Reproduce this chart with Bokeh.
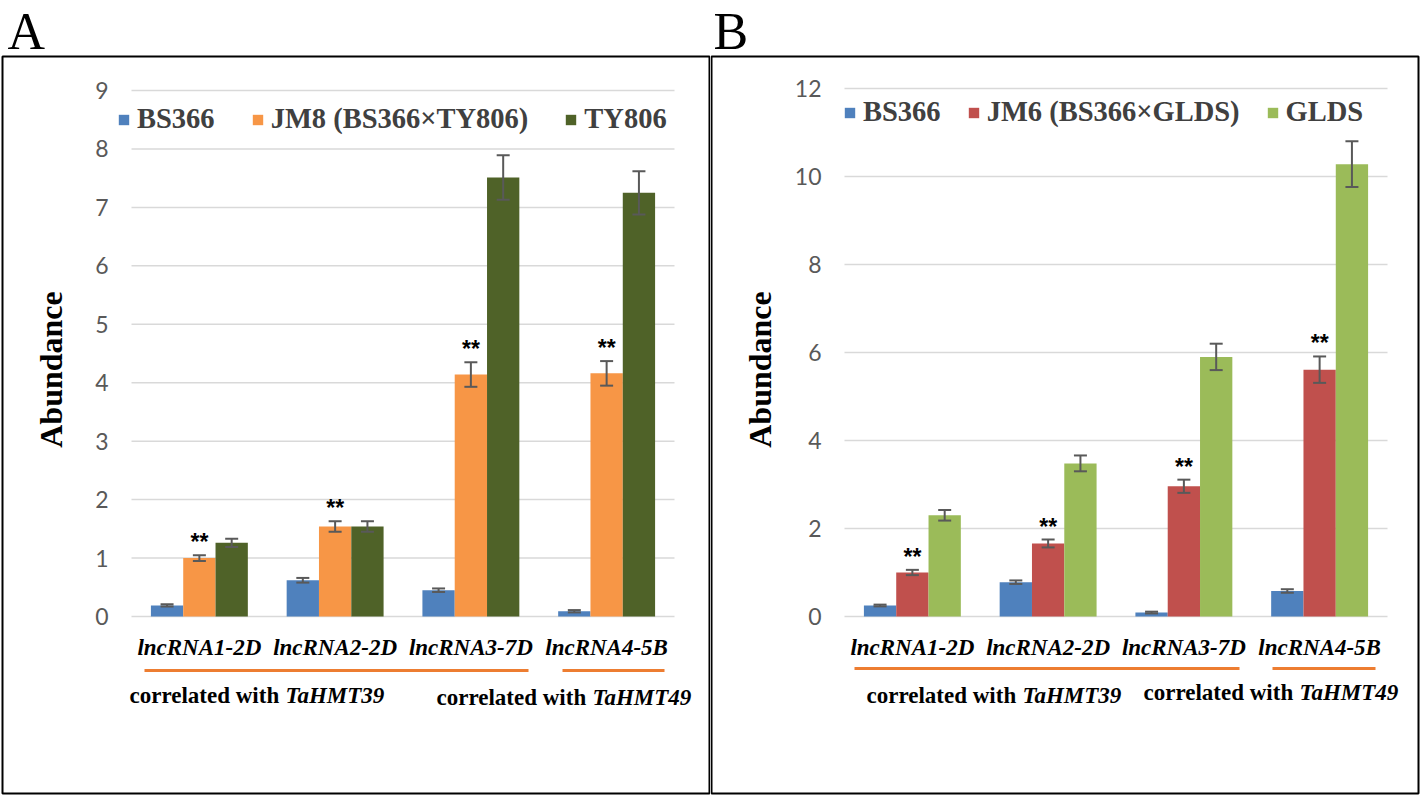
import numpy as np
from bokeh.plotting import figure
from bokeh.models import (ColumnDataSource, Range1d, FixedTicker, Whisker, TeeHead,
                          Label, Legend, LegendItem, BoxAnnotation)
from bokeh.layouts import row
from bokeh.core.properties import value
from bokeh.embed import file_html
from bokeh.resources import INLINE

# ---------------- data ----------------
categories = ["lncRNA1-2D", "lncRNA2-2D", "lncRNA3-7D", "lncRNA4-5B"]

a_series = ["BS366", "JM8 (BS366×TY806)", "TY806"]
a_bs366 = [0.19, 0.62, 0.45, 0.09]
a_bs366_err = [0.02, 0.04, 0.03, 0.02]
a_jm8 = [1.00, 1.54, 4.14, 4.16]
a_jm8_err = [0.05, 0.09, 0.21, 0.21]
a_ty806 = [1.26, 1.54, 7.51, 7.25]
a_ty806_err = [0.07, 0.09, 0.38, 0.37]
a_sig = ["**", "**", "**", "**"]
a_yticks = list(range(0, 10))

b_series = ["BS366", "JM6 (BS366×GLDS)", "GLDS"]
b_bs366 = [0.25, 0.78, 0.09, 0.58]
b_bs366_err = [0.02, 0.04, 0.02, 0.04]
b_jm6 = [1.00, 1.66, 2.96, 5.61]
b_jm6_err = [0.06, 0.09, 0.15, 0.30]
b_glds = [2.30, 3.48, 5.90, 10.28]
b_glds_err = [0.12, 0.18, 0.30, 0.52]
b_sig = ["**", "**", "**", "**"]
b_yticks = list(range(0, 13, 2))

group_genes = ["TaHMT39", "TaHMT49"]
group_prefix = "correlated with"

# ---------------- styles ----------------
A_COLORS = ["#4F81BD", "#F79646", "#4F6228"]
B_COLORS = ["#4F81BD", "#C0504D", "#9BBB59"]
ERR_COLOR = "#595959"
GRID_COLOR = "#D9D9D9"
LINE_ORANGE = "#ED7D31"
SERIF = "Liberation Serif"
BAR_W = 0.238
FIG_W, FIG_H = 710, 796


def build_panel(letter, series, values, errors, sig, colors, yticks, ymax,
                fig_left, frame_left, frame_top, frame_h,
                box, ylabel_pos, underlines, group_texts, legend_pos, legend_spacing):
    """All geometry arguments are page pixel positions."""
    n = len(categories)
    frame_w = 543
    fig_top = 0

    def X(px):
        return (px - frame_left) / frame_w * n

    def Y(py):
        return (frame_top + frame_h - py) / frame_h * ymax

    p = figure(frame_width=FIG_W, frame_height=FIG_H,
               min_border=0, min_border_left=0, min_border_right=0,
               min_border_top=0, min_border_bottom=0,
               x_range=Range1d(X(fig_left), X(fig_left + FIG_W)),
               y_range=Range1d(Y(fig_top + FIG_H), Y(fig_top)),
               output_backend="svg", toolbar_location=None, tools="")
    p.outline_line_color = None
    p.background_fill_color = "white"
    p.border_fill_color = "white"
    p.xgrid.visible = False
    p.ygrid.visible = False

    # horizontal gridlines across the plot area
    p.segment(x0=0, x1=n, y0=yticks, y1=yticks, line_color=GRID_COLOR, line_width=1.5)

    centers = np.arange(n) + 0.5
    offsets = [-BAR_W, 0.0, BAR_W]
    renderers = []
    for k, (vals, errs) in enumerate(zip(values, errors)):
        xs = centers + offsets[k]
        vals = np.array(vals)
        errs = np.array(errs)
        src = ColumnDataSource(dict(x=xs, top=vals, upper=vals + errs, lower=vals - errs))
        r = p.vbar(x="x", top="top", bottom=0, width=BAR_W, source=src,
                   fill_color=colors[k], line_color=None)
        renderers.append(r)
        w = Whisker(source=src, base="x", upper="upper", lower="lower",
                    dimension="height", line_color=ERR_COLOR, line_width=2,
                    level="overlay",
                    upper_head=TeeHead(size=13, line_color=ERR_COLOR, line_width=2),
                    lower_head=TeeHead(size=13, line_color=ERR_COLOR, line_width=2))
        p.add_layout(w)

    # significance stars over the hybrid series
    mid_vals = np.array(values[1]) + np.array(errors[1])
    ssrc = ColumnDataSource(dict(x=centers + offsets[1], y=mid_vals, t=sig))
    p.text(x="x", y="y", text="t", source=ssrc, text_align="center",
           text_baseline="alphabetic", y_offset=-13,
           text_font=value("Liberation Sans"), text_font_style="bold",
           text_font_size="23px", text_color="black")

    # axes drawn at fixed data locations inside the frame
    p.yaxis.fixed_location = 0
    p.yaxis.bounds = (0, ymax)
    p.yaxis.ticker = FixedTicker(ticks=yticks)
    p.yaxis.axis_line_color = None
    p.yaxis.major_tick_line_color = None
    p.yaxis.minor_tick_line_color = None
    p.yaxis.major_tick_out = 0
    p.yaxis.major_tick_in = 0
    p.yaxis.major_label_standoff = 23
    p.yaxis.major_label_text_font = "Lato"
    p.yaxis.major_label_text_font_size = "23px"
    p.yaxis.major_label_text_color = "#595959"

    p.xaxis.fixed_location = 0
    p.xaxis.bounds = (0, n)
    p.xaxis.ticker = FixedTicker(ticks=list(centers))
    p.xaxis.major_label_overrides = {float(c): cat for c, cat in zip(centers, categories)}
    p.xaxis.axis_line_color = None
    p.xaxis.major_tick_line_color = None
    p.xaxis.minor_tick_line_color = None
    p.xaxis.major_tick_out = 0
    p.xaxis.major_tick_in = 0
    p.xaxis.major_label_standoff = 18
    p.xaxis.major_label_text_font = SERIF
    p.xaxis.major_label_text_font_style = "bold italic"
    p.xaxis.major_label_text_font_size = "23px"
    p.xaxis.major_label_text_color = "black"

    # legend (location relative to frame bottom-left, in pixels)
    legend = Legend(items=[LegendItem(label=s, renderers=[r]) for s, r in zip(series, renderers)],
                    orientation="horizontal",
                    location=(legend_pos[0] - fig_left, fig_top + FIG_H - legend_pos[1]),
                    padding=0, margin=0, spacing=legend_spacing, label_standoff=7,
                    glyph_width=13, glyph_height=13,
                    label_text_font=SERIF, label_text_font_style="bold",
                    label_text_font_size="28.5px", label_text_color="#404040",
                    border_line_color=None, background_fill_alpha=0)
    p.add_layout(legend)

    # y axis title
    p.add_layout(Label(x=X(ylabel_pos[0]), y=Y(ylabel_pos[1]), text="Abundance",
                       angle=np.pi / 2, text_align="center", text_baseline="middle",
                       text_font=SERIF, text_font_style="bold", text_font_size="32px",
                       text_color="black"))

    # panel letter
    p.add_layout(Label(x=X(letter[1]), y=Y(letter[2]), text=letter[0],
                       text_align="left", text_baseline="middle",
                       text_font=SERIF, text_font_size="52px", text_color="black"))

    # panel box
    p.add_layout(BoxAnnotation(left=X(box[0]), right=X(box[1]), top=Y(box[2]), bottom=Y(box[3]),
                               fill_alpha=0, fill_color=None, line_color="black",
                               line_alpha=1.0, line_width=2))

    # group underlines
    for (x0, x1, yy) in underlines:
        p.segment(x0=X(x0), x1=X(x1), y0=Y(yy), y1=Y(yy), line_color=LINE_ORANGE, line_width=3)

    # group texts
    for gene, (x0, x1, yy) in zip(group_genes, group_texts):
        p.add_layout(Label(x=X(x0), y=Y(yy), text=group_prefix, text_align="left",
                           text_baseline="middle", text_font=SERIF, text_font_style="bold",
                           text_font_size="23px", text_color="black"))
        p.add_layout(Label(x=X(x1), y=Y(yy), text=gene, text_align="left",
                           text_baseline="middle", text_font=SERIF,
                           text_font_style="bold italic",
                           text_font_size="23px", text_color="black"))
    return p


pA = build_panel(("A", 7, 31), a_series,
                 [a_bs366, a_jm8, a_ty806], [a_bs366_err, a_jm8_err, a_ty806_err],
                 a_sig, A_COLORS, a_yticks, 9,
                 fig_left=0, frame_left=131, frame_top=90, frame_h=526,
                 box=(2, 709, 56, 793), ylabel_pos=(50, 369),
                 underlines=[(144, 528, 670), (562, 664, 670)],
                 group_texts=[(129, 285, 695), (436, 592, 697)],
                 legend_pos=(117, 135), legend_spacing=36)

pB = build_panel(("B", 713, 31), b_series,
                 [b_bs366, b_jm6, b_glds], [b_bs366_err, b_jm6_err, b_glds_err],
                 b_sig, B_COLORS, b_yticks, 12,
                 fig_left=710, frame_left=844, frame_top=88, frame_h=528,
                 box=(711, 1418, 56, 793), ylabel_pos=(759, 369),
                 underlines=[(854, 1239, 668), (1272, 1375, 668)],
                 group_texts=[(866, 1022, 695), (1143, 1299, 692)],
                 legend_pos=(843, 128), legend_spacing=26)

layout = row(pA, pB)
open("out.html", "w").write(file_html(layout, INLINE))
